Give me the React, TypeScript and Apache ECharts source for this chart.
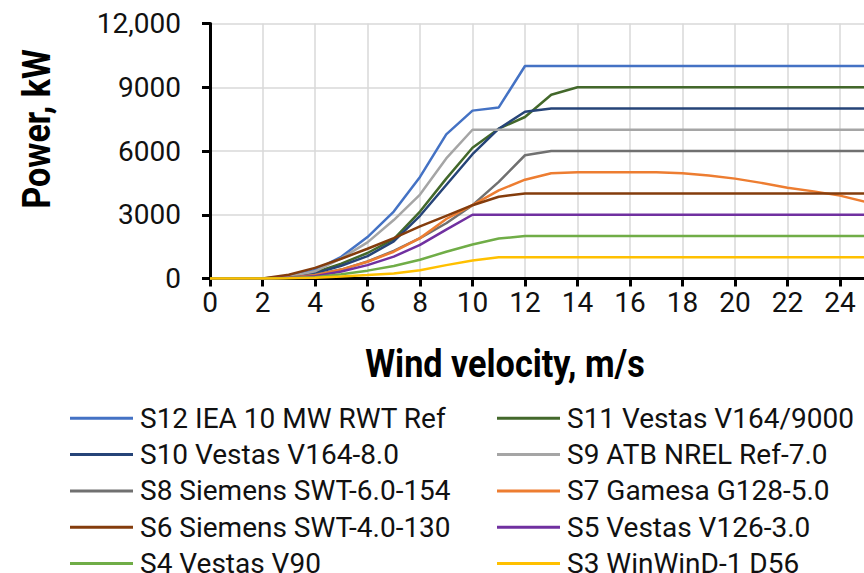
import React, { useEffect, useRef } from 'react';
import * as echarts from 'echarts';

const windSpeed = [0, 1, 2, 3, 4, 5, 6, 7, 8, 9, 10, 11, 12, 13, 14, 15, 16, 17, 18, 19, 20, 21, 22, 23, 24, 25];

const seriesNames = [
  'S12 IEA 10 MW RWT Ref',
  'S11 Vestas V164/9000',
  'S10 Vestas V164-8.0',
  'S9 ATB NREL Ref-7.0',
  'S8 Siemens SWT-6.0-154',
  'S7 Gamesa G128-5.0',
  'S6 Siemens SWT-4.0-130',
  'S5 Vestas V126-3.0',
  'S4 Vestas V90',
  'S3 WinWinD-1 D56',
];

const seriesColors = ['#4472C4', '#43682B', '#264478', '#A5A5A5', '#707070', '#ED7D31', '#843C0C', '#7030A0', '#70AD47', '#FFC000'];

const s12 = [0, 0, 0, 100, 400, 1020, 1950, 3150, 4780, 6780, 7900, 8050, 10000, 10000, 10000, 10000, 10000, 10000, 10000, 10000, 10000, 10000, 10000, 10000, 10000, 10000];
const s11 = [0, 0, 0, 50, 280, 700, 1200, 1850, 3150, 4700, 6150, 7050, 7600, 8650, 9000, 9000, 9000, 9000, 9000, 9000, 9000, 9000, 9000, 9000, 9000, 9000];
const s10 = [0, 0, 0, 40, 240, 600, 1050, 1750, 2950, 4400, 5850, 7050, 7850, 8000, 8000, 8000, 8000, 8000, 8000, 8000, 8000, 8000, 8000, 8000, 8000, 8000];
const s9 = [0, 0, 0, 80, 340, 950, 1700, 2750, 3950, 5650, 7000, 7000, 7000, 7000, 7000, 7000, 7000, 7000, 7000, 7000, 7000, 7000, 7000, 7000, 7000, 7000];
const s8 = [0, 0, 0, 30, 180, 420, 800, 1300, 1900, 2600, 3450, 4550, 5800, 6000, 6000, 6000, 6000, 6000, 6000, 6000, 6000, 6000, 6000, 6000, 6000, 6000];
const s7 = [0, 0, 0, 30, 150, 420, 790, 1260, 1900, 2800, 3450, 4150, 4650, 4950, 5000, 5000, 5000, 5000, 4950, 4850, 4700, 4500, 4270, 4100, 3900, 3600];
const s6 = [0, 0, 0, 180, 500, 930, 1400, 1900, 2450, 2950, 3450, 3850, 4000, 4000, 4000, 4000, 4000, 4000, 4000, 4000, 4000, 4000, 4000, 4000, 4000, 4000];
const s5 = [0, 0, 0, 30, 110, 330, 630, 1030, 1580, 2300, 3000, 3000, 3000, 3000, 3000, 3000, 3000, 3000, 3000, 3000, 3000, 3000, 3000, 3000, 3000, 3000];
const s4 = [0, 0, 0, 20, 60, 200, 370, 590, 880, 1260, 1600, 1880, 2000, 2000, 2000, 2000, 2000, 2000, 2000, 2000, 2000, 2000, 2000, 2000, 2000, 2000];
const s3 = [0, 0, 0, 10, 40, 90, 160, 240, 390, 630, 850, 1000, 1000, 1000, 1000, 1000, 1000, 1000, 1000, 1000, 1000, 1000, 1000, 1000, 1000, 1000];

const seriesValues = [s12, s11, s10, s9, s8, s7, s6, s5, s4, s3];

const yTickLabels: Record<number, string> = { 0: '0', 3000: '3000', 6000: '6000', 9000: '9000', 12000: '12,000' };

const yAxisTitle = 'Power, kW';
const xAxisTitle = 'Wind velocity, m/s';

export default function App() {
  const ref = useRef<HTMLDivElement>(null);
  useEffect(() => {
    document.body.style.margin = '0';
    const chart = echarts.init(ref.current!, null, { renderer: 'svg' });
    const legends = seriesNames.map((name, i) => ({
      orient: 'horizontal',
      left: i % 2 === 0 ? 70 : 497,
      top: 404.3 + Math.floor(i / 2) * 36.3,
      padding: 0,
      icon: 'rect',
      itemWidth: 63,
      itemHeight: 3,
      textStyle: { fontFamily: 'Roboto', fontSize: 28, color: '#111', lineHeight: 20, padding: [0, 0, 0, 2] },
      data: [name],
    }));
    chart.setOption({
      animation: false,
      backgroundColor: '#fff',
      grid: { left: 210, top: 23.5, right: -2.25, bottom: 294.5, containLabel: false, outerBoundsMode: 'none' },
      legend: legends,
      xAxis: {
        type: 'value',
        min: 0,
        max: 25,
        interval: 2,
        axisLine: { show: true, lineStyle: { color: '#000', width: 3 } },
        axisTick: { show: true, length: 8, lineStyle: { color: '#000', width: 3 } },
        axisLabel: { showMaxLabel: false, margin: 10, fontFamily: 'Roboto', fontSize: 28, color: '#111' },
        splitLine: { show: true, lineStyle: { color: '#D9D9D9', width: 1.5 } },
      },
      yAxis: {
        type: 'value',
        min: 0,
        max: 12000,
        interval: 3000,
        axisLine: { show: true, lineStyle: { color: '#000', width: 3 } },
        axisTick: { show: true, length: 8, lineStyle: { color: '#000', width: 3 } },
        axisLabel: {
          margin: 29,
          fontFamily: 'Roboto',
          fontSize: 28,
          color: '#111',
          formatter: (v: number) => yTickLabels[v] ?? String(v),
        },
        splitLine: { show: true, lineStyle: { color: '#D9D9D9', width: 1.5 } },
      },
      graphic: [
        {
          type: 'text',
          x: 37,
          y: 129,
          rotation: Math.PI / 2,
          scaleX: 0.9,
          style: {
            text: yAxisTitle,
            fontFamily: 'Roboto',
            fontWeight: 'bold',
            fontSize: 38,
            fill: '#000',
            align: 'center',
            verticalAlign: 'middle',
          },
        },
        {
          type: 'text',
          x: 505,
          y: 364,
          scaleX: 0.9,
          style: {
            text: xAxisTitle,
            fontFamily: 'Roboto',
            fontWeight: 'bold',
            fontSize: 38,
            fill: '#000',
            align: 'center',
            verticalAlign: 'middle',
          },
        },
      ],
      series: seriesNames.map((name, i) => ({
        name,
        type: 'line',
        symbol: 'none',
        color: seriesColors[i],
        lineStyle: { width: 2.5, color: seriesColors[i] },
        data: windSpeed.map((w, j) => [w, seriesValues[i][j]]),
      })),
    });
    return () => chart.dispose();
  }, []);
  return <div ref={ref} style={{ width: 864, height: 573 }} />;
}
